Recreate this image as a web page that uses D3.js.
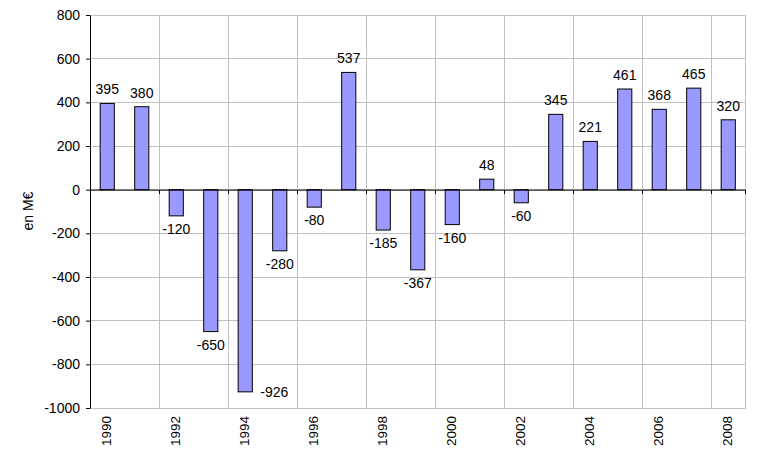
<!DOCTYPE html>
<html><head><meta charset="utf-8">
<script src="https://cdn.jsdelivr.net/npm/d3@7"></script>
<style>body{margin:0;background:#fff}svg{display:block}text{font-family:"Liberation Sans",Arial,sans-serif;fill:#000}</style>
</head><body>
<script>
const years = [1990,1991,1992,1993,1994,1995,1996,1997,1998,1999,2000,2001,2002,2003,2004,2005,2006,2007,2008];
const values = [395,380,-120,-650,-926,-280,-80,537,-185,-367,-160,48,-60,345,221,461,368,465,320];
const yTicks = [800,600,400,200,0,-200,-400,-600,-800,-1000];
const yLabel = "en M€";

const W = 783, H = 456;
const m = {left:90, right:783-745.5, top:15, bottom:456-408};
const svg = d3.select("body").append("svg").attr("width",W).attr("height",H);

const x = d3.scaleBand().domain(years).range([m.left, W-m.right]).paddingInner(0).paddingOuter(0);
const y = d3.scaleLinear().domain([-1000,800]).range([H-m.bottom, m.top]);
const bw = x.bandwidth()*0.41;

// horizontal grid
svg.append("g").selectAll("line").data(yTicks).join("line")
  .attr("x1",m.left).attr("x2",W-m.right).attr("y1",d=>y(d)).attr("y2",d=>y(d))
  .attr("stroke","#c0c0c0").attr("stroke-width",1).attr("shape-rendering","crispEdges");
// vertical grid (every 2 categories)
const vIdx = Array.from(new Set(d3.range(0, years.length+1, 2).concat([years.length])));
svg.append("g").selectAll("line").data(vIdx).join("line")
  .attr("x1",i=>m.left+i*x.step()).attr("x2",i=>m.left+i*x.step())
  .attr("y1",m.top).attr("y2",H-m.bottom)
  .attr("stroke","#c0c0c0").attr("stroke-width",1).attr("shape-rendering","crispEdges");

// bars
svg.append("g").selectAll("rect").data(years).join("rect")
  .attr("x",(d)=>x(d)+x.bandwidth()/2-bw/2)
  .attr("width",bw)
  .attr("y",(d,i)=>y(Math.max(0,values[i])))
  .attr("height",(d,i)=>Math.abs(y(values[i])-y(0)))
  .attr("fill","#9999ff").attr("stroke","#000").attr("stroke-width",1);

// zero line with ticks
const zg = svg.append("g").attr("transform",`translate(0,${y(0)})`);
zg.call(d3.axisBottom(x).tickValues([]).tickSizeOuter(0)).select(".domain").attr("stroke","#000");
zg.selectAll("line.zt").data(vIdx).join("line").attr("class","zt")
  .attr("x1",i=>m.left+i*x.step()).attr("x2",i=>m.left+i*x.step()).attr("y1",0).attr("y2",4)
  .attr("stroke","#000").attr("shape-rendering","crispEdges");

// y axis
const yax = svg.append("g").attr("transform",`translate(${m.left},0)`)
  .call(d3.axisLeft(y).tickValues(yTicks).tickFormat(d=>String(d)).tickSize(4).tickSizeOuter(0).tickPadding(6));
yax.select(".domain").attr("stroke","#000");
yax.selectAll("line").attr("stroke","#000");
yax.selectAll("text").attr("font-size",14).attr("font-family","Liberation Sans, Arial, sans-serif");

// x labels
svg.append("g").selectAll("text").data(years.filter((d,i)=>i%2===0)).join("text")
  .attr("transform",d=>`translate(${x(d)+x.bandwidth()/2+4},${H-m.bottom+8}) rotate(-90)`)
  .attr("text-anchor","end").attr("font-size",13.5).text(d=>d);

// y title
svg.append("text").attr("transform",`translate(33,${y(-98)}) rotate(-90)`)
  .attr("text-anchor","middle").attr("font-size",14).text(yLabel);

// value labels
svg.append("g").selectAll("text").data(years).join("text")
  .attr("font-size",14)
  .each(function(d,i){
    const v = values[i], cx = x(d)+x.bandwidth()/2, t = d3.select(this).text(String(v));
    if (v>=0) { t.attr("x",cx).attr("y",y(v)-9).attr("text-anchor","middle"); }
    else if (y(v)+22 > H-m.bottom) { t.attr("x",cx+bw/2+8).attr("y",y(v)+5).attr("text-anchor","start"); }
    else { t.attr("x",cx).attr("y",y(v)+18).attr("text-anchor","middle"); }
  });
</script>
</body></html>
